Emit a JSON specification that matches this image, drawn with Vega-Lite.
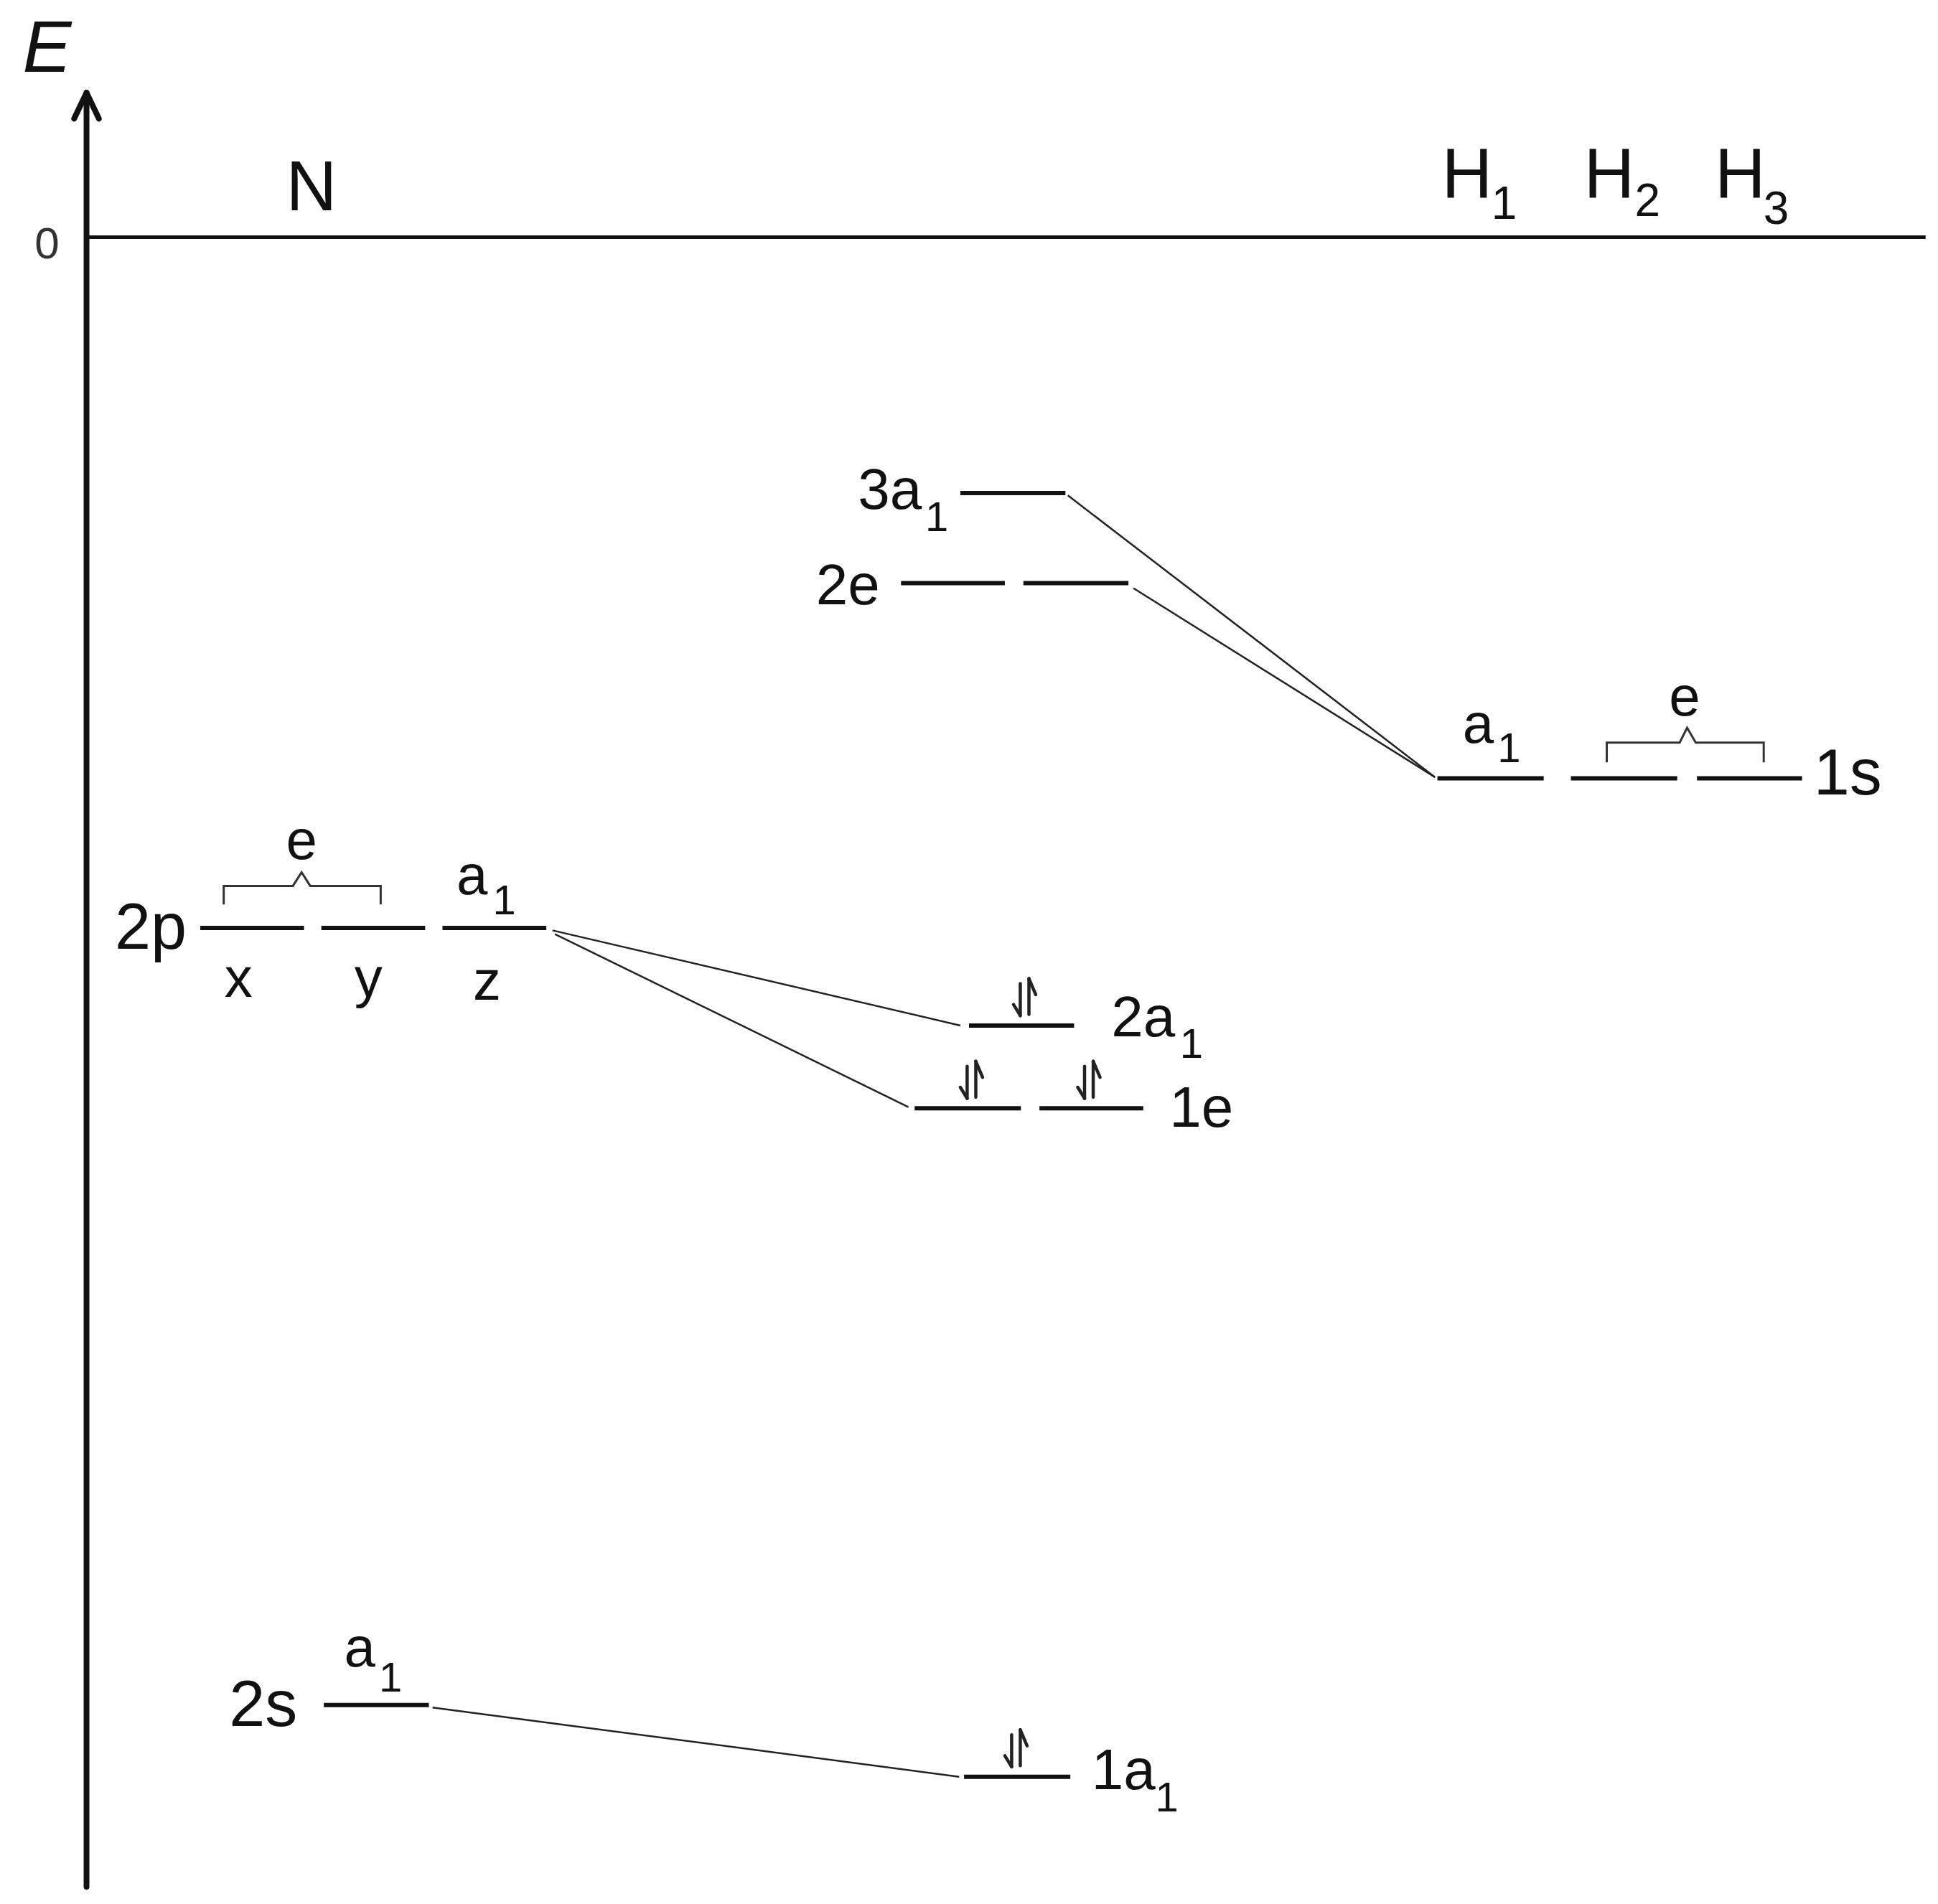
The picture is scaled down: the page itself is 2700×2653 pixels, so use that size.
{
  "$schema": "https://vega.github.io/schema/vega-lite/v6.json",
  "description": "MO energy diagram for NH3",
  "autosize": {"type": "fit", "contains": "padding"},
  "width": 2700,
  "height": 2653,
  "padding": 0,
  "background": "#ffffff",
  "config": {"view": {"stroke": null}},
  "datasets": {
    "frame": [
      {"x": 70, "E": -1335, "x2": 70, "E2": 112},
      {"x": 60, "E": 96, "x2": 70, "E2": 117},
      {"x": 80, "E": 96, "x2": 70, "E2": 117}
    ],
    "zero": [
      {"x": 70, "E": 0, "x2": 1558, "E2": 0}
    ],
    "levels": [
      {"name": "3a1", "x": 777, "x2": 862, "E": -207},
      {"name": "2e", "x": 729, "x2": 813, "E": -280},
      {"name": "2e", "x": 828, "x2": 913, "E": -280},
      {"name": "H a1", "x": 1163, "x2": 1249, "E": -438},
      {"name": "H e", "x": 1271, "x2": 1357, "E": -438},
      {"name": "H e", "x": 1373, "x2": 1458, "E": -438},
      {"name": "2p x", "x": 162, "x2": 246, "E": -559},
      {"name": "2p y", "x": 260, "x2": 344, "E": -559},
      {"name": "2p z", "x": 358, "x2": 442, "E": -559},
      {"name": "2a1", "x": 784, "x2": 869, "E": -638},
      {"name": "1e", "x": 740, "x2": 826, "E": -705},
      {"name": "1e", "x": 841, "x2": 925, "E": -705},
      {"name": "2s", "x": 262, "x2": 347, "E": -1188},
      {"name": "1a1", "x": 780, "x2": 866, "E": -1246}
    ],
    "links": [
      {"x": 864, "E": -209, "x2": 1161, "E2": -437},
      {"x": 917, "E": -284, "x2": 1161, "E2": -437},
      {"x": 447, "E": -561, "x2": 777, "E2": -638},
      {"x": 449, "E": -564, "x2": 735, "E2": -704},
      {"x": 350, "E": -1190, "x2": 776, "E2": -1246}
    ],
    "spins": [
      {"x": 825.5, "E": -604, "x2": 825.5, "E2": -630},
      {"x": 825.5, "E": -630, "x2": 820, "E2": -621},
      {"x": 832.5, "E": -629, "x2": 832.5, "E2": -600},
      {"x": 832.5, "E": -600, "x2": 838, "E2": -613},
      {"x": 782.5, "E": -671, "x2": 782.5, "E2": -697},
      {"x": 782.5, "E": -697, "x2": 777, "E2": -688},
      {"x": 789.5, "E": -696, "x2": 789.5, "E2": -667},
      {"x": 789.5, "E": -667, "x2": 795, "E2": -680},
      {"x": 877.5, "E": -671, "x2": 877.5, "E2": -697},
      {"x": 877.5, "E": -697, "x2": 872, "E2": -688},
      {"x": 884.5, "E": -696, "x2": 884.5, "E2": -667},
      {"x": 884.5, "E": -667, "x2": 890, "E2": -680},
      {"x": 818.5, "E": -1212, "x2": 818.5, "E2": -1238},
      {"x": 818.5, "E": -1238, "x2": 813, "E2": -1229},
      {"x": 825.5, "E": -1237, "x2": 825.5, "E2": -1208},
      {"x": 825.5, "E": -1208, "x2": 831, "E2": -1221}
    ],
    "brackets": [
      {"id": "N e", "i": 1, "x": 181, "E": -540},
      {"id": "N e", "i": 2, "x": 181, "E": -525},
      {"id": "N e", "i": 3, "x": 237, "E": -525},
      {"id": "N e", "i": 4, "x": 244, "E": -514},
      {"id": "N e", "i": 5, "x": 251, "E": -525},
      {"id": "N e", "i": 6, "x": 308, "E": -525},
      {"id": "N e", "i": 7, "x": 308, "E": -540},
      {"id": "H e", "i": 1, "x": 1300, "E": -425},
      {"id": "H e", "i": 2, "x": 1300, "E": -409},
      {"id": "H e", "i": 3, "x": 1359, "E": -409},
      {"id": "H e", "i": 4, "x": 1365, "E": -397},
      {"id": "H e", "i": 5, "x": 1372, "E": -409},
      {"id": "H e", "i": 6, "x": 1427, "E": -409},
      {"id": "H e", "i": 7, "x": 1427, "E": -425}
    ],
    "labels": [
      {"t": "0", "x": 38, "E": -17, "role": "zero"},
      {"t": "N", "x": 252, "E": 22, "role": "atom"},
      {"t": "H", "x": 1187, "E": 32, "role": "atom"},
      {"t": "1", "x": 1217, "E": 15, "role": "hsub"},
      {"t": "H", "x": 1302, "E": 32, "role": "atom"},
      {"t": "2", "x": 1333, "E": 17, "role": "hsub"},
      {"t": "H", "x": 1408, "E": 32, "role": "atom"},
      {"t": "3", "x": 1437, "E": 11, "role": "hsub"},
      {"t": "3a", "x": 720, "E": -220, "role": "mo"},
      {"t": "1", "x": 758, "E": -238, "role": "sub"},
      {"t": "2e", "x": 686, "E": -297, "role": "mo"},
      {"t": "a", "x": 1196, "E": -409, "role": "sym"},
      {"t": "1", "x": 1221, "E": -425, "role": "sub"},
      {"t": "e", "x": 1363, "E": -387, "role": "sym"},
      {"t": "1s", "x": 1495, "E": -451, "role": "ao"},
      {"t": "e", "x": 244, "E": -503, "role": "sym"},
      {"t": "a", "x": 382, "E": -532, "role": "sym"},
      {"t": "1", "x": 408, "E": -548, "role": "sub"},
      {"t": "2p", "x": 122, "E": -576, "role": "ao"},
      {"t": "x", "x": 193, "E": -615, "role": "sym"},
      {"t": "y", "x": 298, "E": -615, "role": "sym"},
      {"t": "z", "x": 394, "E": -617, "role": "sym"},
      {"t": "2a", "x": 925, "E": -647, "role": "mo"},
      {"t": "1", "x": 964, "E": -664, "role": "sub"},
      {"t": "1e", "x": 972, "E": -720, "role": "mo"},
      {"t": "a", "x": 291, "E": -1157, "role": "sym"},
      {"t": "1", "x": 316, "E": -1177, "role": "sub"},
      {"t": "2s", "x": 213, "E": -1205, "role": "ao"},
      {"t": "1a", "x": 909, "E": -1256, "role": "mo"},
      {"t": "1", "x": 944, "E": -1274, "role": "sub"}
    ],
    "axisTitle": [
      {"t": "E", "x": 38, "E": 134}
    ]
  },
  "encoding": {
    "x": {"field": "x", "type": "quantitative", "scale": {"domain": [0, 1568], "nice": false, "zero": false}, "axis": null},
    "y": {"field": "E", "type": "quantitative", "scale": {"domain": [-1349, 192], "nice": false, "zero": false}, "axis": null}
  },
  "layer": [
    {
      "data": {"name": "frame"},
      "mark": {"type": "rule", "color": "#111111", "strokeWidth": 8, "strokeCap": "round"},
      "encoding": {"x2": {"field": "x2"}, "y2": {"field": "E2"}}
    },
    {
      "data": {"name": "zero"},
      "mark": {"type": "rule", "color": "#111111", "strokeWidth": 5},
      "encoding": {"x2": {"field": "x2"}, "y2": {"field": "E2"}}
    },
    {
      "data": {"name": "links"},
      "mark": {"type": "rule", "color": "#222222", "strokeWidth": 2.5},
      "encoding": {"x2": {"field": "x2"}, "y2": {"field": "E2"}}
    },
    {
      "data": {"name": "levels"},
      "mark": {"type": "rule", "color": "#111111", "strokeWidth": 6},
      "encoding": {"x2": {"field": "x2"}}
    },
    {
      "data": {"name": "spins"},
      "mark": {"type": "rule", "color": "#222222", "strokeWidth": 4.5, "strokeCap": "round"},
      "encoding": {"x2": {"field": "x2"}, "y2": {"field": "E2"}}
    },
    {
      "data": {"name": "brackets"},
      "mark": {"type": "line", "color": "#333333", "strokeWidth": 3, "interpolate": "linear"},
      "encoding": {"detail": {"field": "id"}, "order": {"field": "i", "type": "quantitative"}}
    },
    {
      "data": {"name": "labels"},
      "transform": [{"filter": "datum.role === 'atom'"}],
      "mark": {"type": "text", "font": "Liberation Sans", "fontSize": 98, "color": "#111111", "align": "center", "baseline": "alphabetic"},
      "encoding": {"text": {"field": "t"}}
    },
    {
      "data": {"name": "labels"},
      "transform": [{"filter": "datum.role === 'ao'"}],
      "mark": {"type": "text", "font": "Liberation Sans", "fontSize": 90, "color": "#111111", "align": "center", "baseline": "alphabetic"},
      "encoding": {"text": {"field": "t"}}
    },
    {
      "data": {"name": "labels"},
      "transform": [{"filter": "datum.role === 'mo'"}],
      "mark": {"type": "text", "font": "Liberation Sans", "fontSize": 80, "color": "#111111", "align": "center", "baseline": "alphabetic"},
      "encoding": {"text": {"field": "t"}}
    },
    {
      "data": {"name": "labels"},
      "transform": [{"filter": "datum.role === 'sym'"}],
      "mark": {"type": "text", "font": "Liberation Sans", "fontSize": 78, "color": "#111111", "align": "center", "baseline": "alphabetic"},
      "encoding": {"text": {"field": "t"}}
    },
    {
      "data": {"name": "labels"},
      "transform": [{"filter": "datum.role === 'sub'"}],
      "mark": {"type": "text", "font": "Liberation Sans", "fontSize": 58, "color": "#111111", "align": "center", "baseline": "alphabetic"},
      "encoding": {"text": {"field": "t"}}
    },
    {
      "data": {"name": "labels"},
      "transform": [{"filter": "datum.role === 'hsub'"}],
      "mark": {"type": "text", "font": "Liberation Sans", "fontSize": 64, "color": "#111111", "align": "center", "baseline": "alphabetic"},
      "encoding": {"text": {"field": "t"}}
    },
    {
      "data": {"name": "labels"},
      "transform": [{"filter": "datum.role === 'zero'"}],
      "mark": {"type": "text", "font": "Liberation Sans", "fontSize": 62, "color": "#333333", "align": "center", "baseline": "alphabetic"},
      "encoding": {"text": {"field": "t"}}
    },
    {
      "data": {"name": "axisTitle"},
      "mark": {"type": "text", "font": "Liberation Sans", "fontStyle": "italic", "fontSize": 102, "color": "#111111", "align": "center", "baseline": "alphabetic"},
      "encoding": {"text": {"field": "t"}}
    }
  ]
}
